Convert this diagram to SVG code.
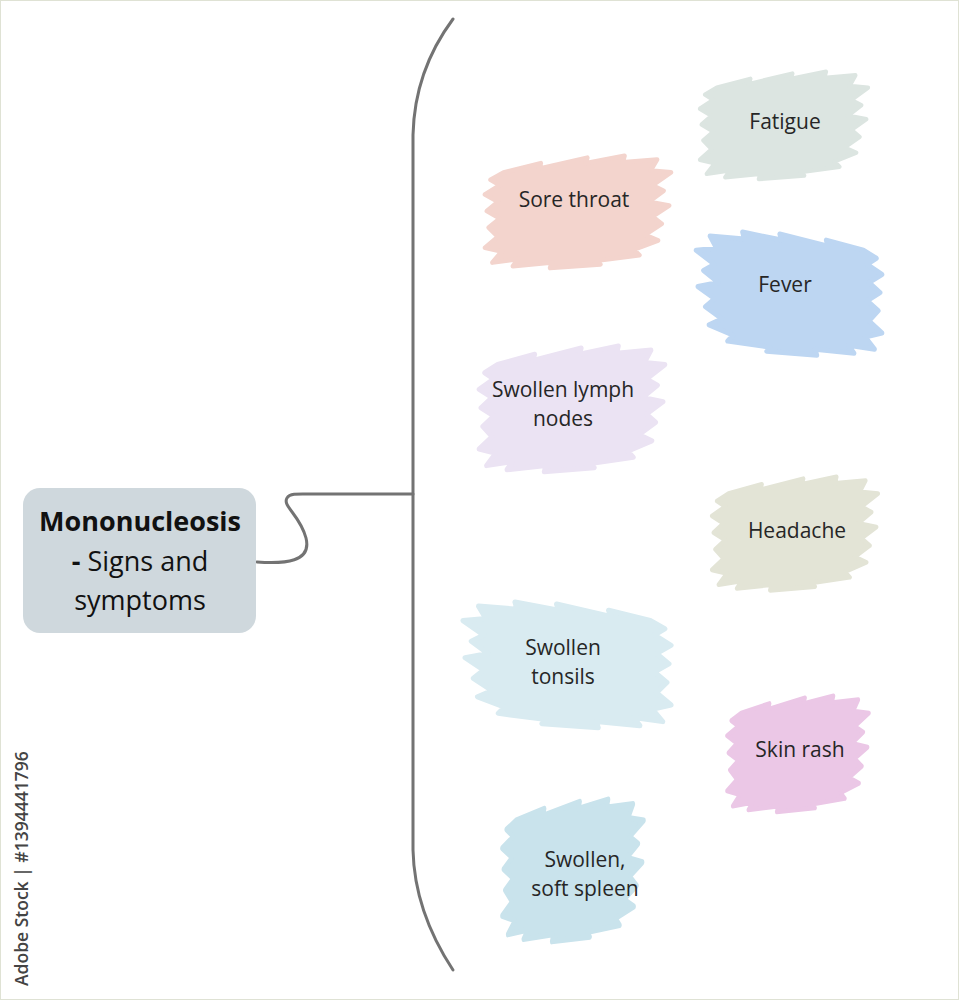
<svg xmlns="http://www.w3.org/2000/svg" width="959" height="1000" viewBox="0 0 959 1000">
<style>
.lbl{font-family:"Open Sans","Liberation Sans",sans-serif;font-size:21px;fill:#262626;text-anchor:middle}
.main{font-family:"Open Sans","Liberation Sans",sans-serif;font-size:27px;fill:#111;text-anchor:middle}
.line{fill:none;stroke:#737373;stroke-width:3;stroke-linecap:round}
.b{stroke-width:5;stroke-linejoin:round}
</style>
<defs>
<path id="blob" d="M20,20 L60,10 L58,16 L110,4 L108,10 L150,2 L148,9 L185,6 L178,18 L200,20 L180,34 L192,40 L176,52 L198,56 L180,68 L190,76 L172,88 L186,94 L160,104 L166,110 L120,116 L124,120 L70,124 L72,118 L30,122 L36,114 L8,118 L18,106 L0,102 L14,90 L4,80 L16,70 L2,62 L14,52 L0,44 L16,34 L6,28 Z"/>
</defs>
<rect x="0.5" y="0.5" width="958" height="999" fill="#fff" stroke="#dfe2d4" stroke-width="1"/>
<text transform="translate(28,986) rotate(-90)" font-family="Open Sans, Liberation Sans, sans-serif" font-size="17.5" font-weight="600" fill="#444">Adobe Stock | #1394441796</text>
<g id="connectors">
<path class="line" d="M453,19 C430,50 414,90 413,135 L413,850 C414,895 430,935 453,970"/>
<path class="line" d="M257,562 C285,564 312,562 306,538 C300,515 282,506 287,498 C290,493 300,494 310,494 L413,494"/>
</g>
<g id="center">
<rect x="23" y="488" width="233" height="145" rx="17" fill="#cfd8dd"/>
<text class="main" x="140" y="531" font-weight="bold">Mononucleosis</text>
<text class="main" x="140" y="571"><tspan font-weight="bold">-</tspan> Signs and</text>
<text class="main" x="140" y="610">symptoms</text>
</g>
<g id="fatigue">
<use href="#blob" class="b" fill="#dce5e1" stroke="#dce5e1" transform="translate(700,70) scale(0.84,0.88)"/>
<text class="lbl" x="785" y="129">Fatigue</text>
</g>
<g id="sore-throat">
<use href="#blob" class="b" fill="#f3d4cd" stroke="#f3d4cd" transform="translate(485,154) scale(0.93,0.92)"/>
<text class="lbl" x="574" y="207">Sore throat</text>
</g>
<g id="fever">
<use href="#blob" class="b" fill="#bdd6f2" stroke="#bdd6f2" transform="translate(882,230) scale(-0.93,1.01)"/>
<text class="lbl" x="785" y="292">Fever</text>
</g>
<g id="lymph">
<use href="#blob" class="b" fill="#ebe3f3" stroke="#ebe3f3" transform="translate(479,344) scale(0.93,1.03)"/>
<text class="lbl" x="563" y="397">Swollen lymph</text>
<text class="lbl" x="563" y="426">nodes</text>
</g>
<g id="headache">
<use href="#blob" class="b" fill="#e3e4d6" stroke="#e3e4d6" transform="translate(712,475) scale(0.83,0.93)"/>
<text class="lbl" x="797" y="538">Headache</text>
</g>
<g id="tonsils">
<use href="#blob" class="b" fill="#d9ebf1" stroke="#d9ebf1" transform="translate(671,600) scale(-1.04,1.03)"/>
<text class="lbl" x="563" y="655">Swollen</text>
<text class="lbl" x="563" y="684">tonsils</text>
</g>
<g id="skin-rash">
<use href="#blob" class="b" fill="#ebc7e6" stroke="#ebc7e6" transform="translate(727,694) scale(0.71,0.95)"/>
<text class="lbl" x="800" y="757">Skin rash</text>
</g>
<g id="spleen">
<use href="#blob" class="b" fill="#c9e3ec" stroke="#c9e3ec" transform="translate(502,797) scale(0.71,1.165)"/>
<text class="lbl" x="585" y="867">Swollen,</text>
<text class="lbl" x="585" y="896">soft spleen</text>
</g>
</svg>
